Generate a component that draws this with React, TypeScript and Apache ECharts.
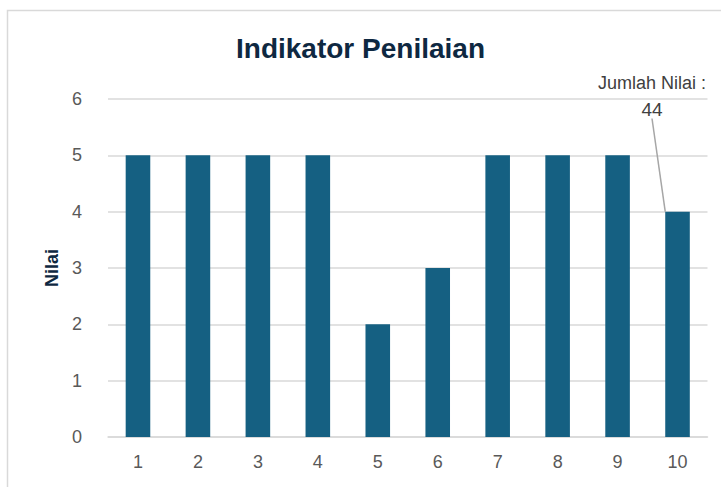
import React, { useEffect, useRef } from "react";
import * as echarts from "echarts";

const categories = ["1", "2", "3", "4", "5", "6", "7", "8", "9", "10"];
const values = [5, 5, 5, 5, 2, 3, 5, 5, 5, 4];
const totalLabel = "Jumlah Nilai :";
const totalValue = 44;
const yTicks = [0, 1, 2, 3, 4, 5, 6];

const FONT = "'Liberation Sans Narrow', 'Liberation Sans', Roboto, sans-serif";

export default function App() {
  const ref = useRef<HTMLDivElement>(null);
  useEffect(() => {
    document.body.style.margin = "0";
    const chart = echarts.init(ref.current!, null, { renderer: "svg" });
    const last = values.length - 1;
    chart.setOption({
      animation: false,
      backgroundColor: "#ffffff",
      title: {
        text: "Indikator Penilaian",
        left: "center",
        top: 29,
        textStyle: { fontFamily: FONT, fontSize: 28, fontWeight: "bold", color: "#0e2841" },
      },
      graphic: [
        {
          type: "rect",
          shape: { x: 7.5, y: 10.5, width: 800, height: 600 },
          style: { fill: "none", stroke: "#d9d9d9", lineWidth: 1.5 },
          silent: true,
        },
      ],
      grid: { left: 108, right: 13.5, top: 99, bottom: 50 },
      xAxis: {
        type: "category",
        data: categories,
        axisTick: { show: false },
        axisLine: { lineStyle: { color: "#d9d9d9", width: 1.5 } },
        axisLabel: { color: "#595959", fontFamily: FONT, fontSize: 18, margin: 16 },
      },
      yAxis: {
        type: "value",
        min: yTicks[0],
        max: yTicks[yTicks.length - 1],
        interval: 1,
        name: "Nilai",
        nameLocation: "middle",
        nameGap: 42,
        nameTextStyle: { fontFamily: FONT, fontSize: 18, fontWeight: "bold", color: "#0e2841" },
        axisLabel: { color: "#595959", fontFamily: FONT, fontSize: 18, margin: 26 },
        splitLine: { lineStyle: { color: "#d9d9d9", width: 1.5 } },
      },
      series: [
        {
          type: "bar",
          data: values.map((v, i) =>
            i === last
              ? {
                  value: v,
                  label: {
                    show: true,
                    formatter: `{a|${totalLabel}}\n{b|${totalValue}}`,
                    fontFamily: FONT,
                    color: "#404040",
                    align: "center",
                    rich: {
                      a: { fontFamily: FONT, fontSize: 18, color: "#404040", lineHeight: 26 },
                      b: { fontFamily: FONT, fontSize: 19, color: "#404040", lineHeight: 26 },
                    },
                  },
                  labelLine: { show: true, lineStyle: { color: "#a6a6a6", width: 1.5 } },
                }
              : v
          ),
          barWidth: "41%",
          itemStyle: { color: "#156082" },
          labelLayout: (params: any) =>
            params.dataIndex === last
              ? { x: 652, y: 96, align: "center", verticalAlign: "middle" }
              : {},
        },
      ],
    });
    return () => chart.dispose();
  }, []);
  return <div ref={ref} style={{ width: 721, height: 487 }} />;
}
